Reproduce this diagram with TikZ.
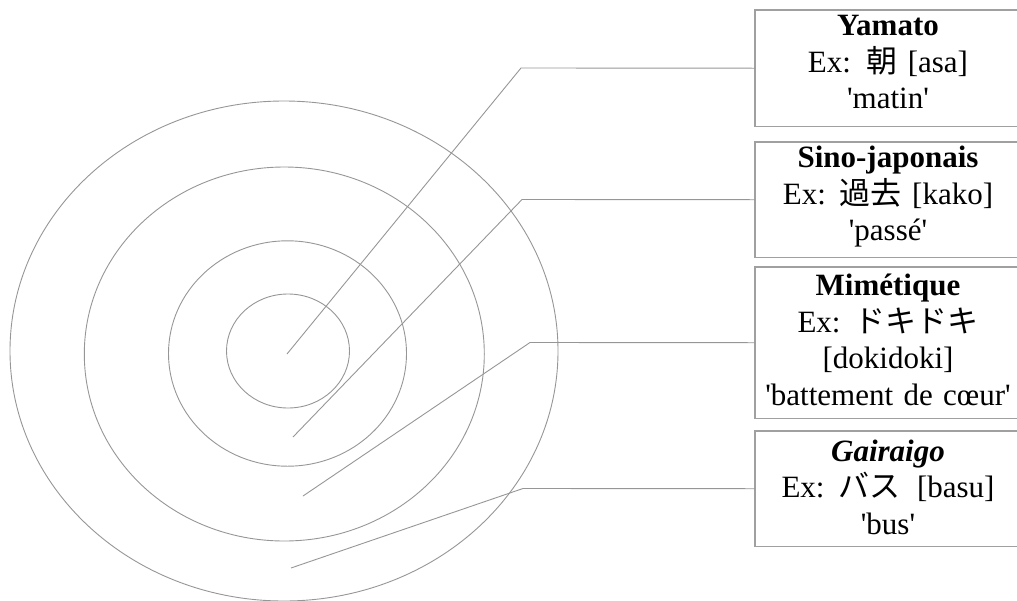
\documentclass[tikz,border=0pt]{standalone}
\usepackage{fontspec}
\setmainfont{Liberation Serif}[Ligatures=TeXOff]
\newfontfamily\cjk{Noto Sans CJK JP}
\definecolor{ln}{RGB}{150,150,150}
\definecolor{bx}{RGB}{160,160,160}
\begin{document}
\begin{tikzpicture}[x=1pt,y=-1pt,
  ring/.style={draw=ln, line width=0.9pt},
  conn/.style={draw=ln, line width=0.9pt},
  boxframe/.style={anchor=north west, minimum width=320pt, inner sep=0pt},
  boxline/.style={draw=bx, line width=1.1pt},
  boxtext/.style={font=\fontsize{31}{36.5}\selectfont, align=center, text width=258pt, inner sep=0pt}]
\useasboundingbox (0,0) rectangle (1017,600);
\clip (0,0) rectangle (1017,600);
% rings
\draw[ring] (288,351) ellipse [x radius=61.5pt, y radius=57pt];
\draw[ring] (287.5,353.5) ellipse [x radius=119pt, y radius=112.7pt];
\draw[ring] (284.3,354) ellipse [x radius=200pt, y radius=187pt];
\draw[ring] (284,351) ellipse [x radius=274pt, y radius=250pt];
% boxes (open on the right: they run past the picture's edge)
\node[boxframe, minimum height=116pt] (b1) at (755,10) {};
\node[boxframe, minimum height=115pt] (b2) at (755,142) {};
\node[boxframe, minimum height=151pt] (b3) at (755,267) {};
\node[boxframe, minimum height=115pt] (b4) at (755,431) {};
\foreach \b in {b1,b2,b3,b4}
  \draw[boxline] (\b.north east) -- (\b.north west) -- (\b.south west) -- (\b.south east);
% texts
\node[boxtext] (t1) at (888,62) {\textbf{Yamato}\\Ex: {\cjk 朝} [asa]\\'matin'};
\node[boxtext] (t2) at (888,197) {\textbf{Sino-japonais}\\Ex:\hspace{0.45em}{\cjk 過去} [kako]\\'passé'};
\node[boxtext] (t3) at (888,340) {\textbf{Mimétique}\\Ex:\hspace{0.45em}{\cjk ドキドキ}\\{}[dokidoki]\\\mbox{'battement de cœur'}};
\node[boxtext] (t4) at (888,487) {\textbf{\textit{Gairaigo}}\\Ex:\hspace{0.45em}{\cjk バス}\hspace{0.2em} [basu]\\'bus'};
% connectors
\coordinate (s1) at (287,354);
\coordinate (k1) at (521,68);
\coordinate (s2) at (293,437);
\coordinate (k2) at (522,199.5);
\coordinate (s3) at (303,496);
\coordinate (k3) at (530,342.5);
\coordinate (s4) at (291,568);
\coordinate (k4) at (523,488.5);
\draw[conn] (s1) -- (k1) -- (b1.west);
\draw[conn] (s2) -- (k2) -- (b2.west);
\draw[conn] (s3) -- (k3) -- (b3.west);
\draw[conn] (s4) -- (k4) -- (b4.west);
\end{tikzpicture}
\end{document}
